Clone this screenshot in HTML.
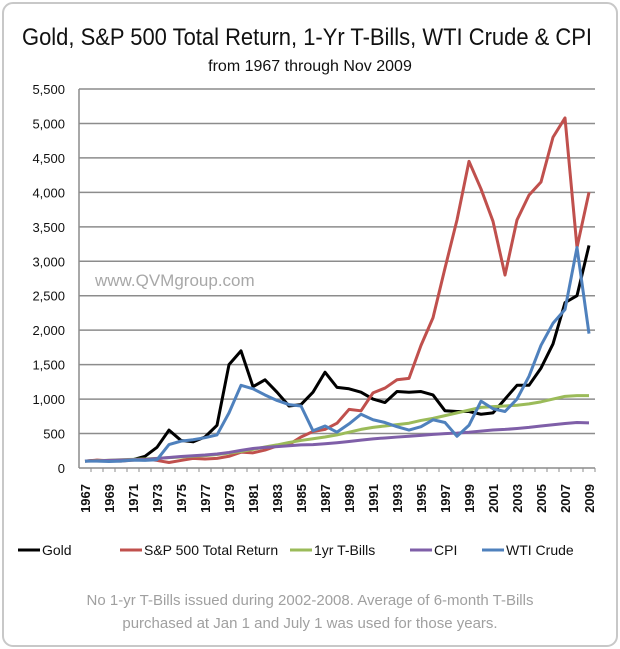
<!DOCTYPE html>
<html><head><meta charset="utf-8">
<style>
body{margin:0;background:#fff;font-family:"Liberation Sans",sans-serif;}
#wrap{position:relative;width:620px;height:649px;overflow:hidden;}
</style></head>
<body>
<div id="wrap">
<svg id="chart" width="620" height="649" xmlns="http://www.w3.org/2000/svg">
<rect x="3" y="3" width="614" height="643" rx="10" fill="#fff" stroke="#c8c8c8" stroke-width="2"/>
<text x="22" y="45" textLength="570" lengthAdjust="spacingAndGlyphs" font-size="24" fill="#111">Gold, S&amp;P 500 Total Return, 1-Yr T-Bills, WTI Crude &amp; CPI</text>
<text x="310" y="71" text-anchor="middle" font-size="16" fill="#111">from 1967 through Nov 2009</text>
<text x="95" y="286" font-size="17" fill="#a8a8a8">www.QVMgroup.com</text>
<g id="grid"></g><g id="lines"></g><g id="axes"></g>
<g id="legend"></g>
<text x="310" y="605" text-anchor="middle" font-size="15" fill="#a0a0a0">No 1-yr T-Bills issued during 2002-2008.  Average of 6-month T-Bills</text>
<text x="310" y="628" text-anchor="middle" font-size="15" fill="#a0a0a0">purchased at Jan 1 and July 1 was used for those years.</text>
</svg>
</div>
<script>
const years=[];for(let y=1967;y<=2009;y++)years.push(y);
const yTicks=[0,500,1000,1500,2000,2500,3000,3500,4000,4500,5000,5500];
const gold=[100,110,105,110,120,170,300,550,400,380,450,620,1500,1700,1180,1280,1100,900,920,1100,1390,1170,1150,1100,1000,950,1110,1100,1110,1060,830,820,820,780,800,1000,1200,1200,1450,1800,2400,2500,3230];
const sp500=[100,115,105,100,115,130,110,80,110,140,130,140,170,230,220,260,320,340,450,530,560,650,850,830,1090,1160,1280,1300,1780,2180,2900,3600,4450,4050,3580,2800,3600,3960,4150,4800,5080,3200,4000];
const tbills=[100,105,112,120,126,131,140,151,160,170,180,195,215,240,270,305,335,370,400,425,450,480,520,560,590,610,630,650,690,720,760,800,840,880,890,900,910,930,960,1000,1040,1050,1050];
const cpi=[100,104,110,116,120,124,138,153,167,177,188,203,226,256,283,300,310,323,335,340,352,367,385,405,423,436,449,461,474,488,499,507,519,536,551,560,573,589,609,628,646,660,655];
const wti=[100,100,95,100,115,110,120,340,390,410,440,480,800,1200,1150,1060,980,920,900,540,610,520,640,780,700,660,600,550,600,700,660,460,620,970,860,820,1000,1330,1780,2100,2300,3200,1950];
const seriesNames=["Gold","S&P 500 Total Return","1yr T-Bills","CPI","WTI Crude"];
const seriesColors=["#000000","#c0504d","#9bbb59","#7f5fa8","#4f81bd"];
const seriesData=[gold,sp500,tbills,cpi,wti];
const L=79,R=595,T=89,B=468,NS="http://www.w3.org/2000/svg";
const xs=i=>85+i*(589-85)/(years.length-1);
const ys=v=>B-(v/5500)*(B-T);
function mk(tag,at,parent){const e=document.createElementNS(NS,tag);for(const k in at)e.setAttribute(k,at[k]);parent.appendChild(e);return e;}
const grid=document.getElementById('grid'),axes=document.getElementById('axes'),lines=document.getElementById('lines'),leg=document.getElementById('legend');
yTicks.forEach(t=>{
  if(t>0){const g=mk('line',{x1:L,x2:R,y1:ys(t),y2:ys(t),stroke:'#8c8c8c','stroke-width':1.5},grid);
  
  }
  const tx=mk('text',{x:65,y:ys(t)+5,'text-anchor':'end','font-size':13,fill:'#111'},axes);
  tx.textContent=t.toLocaleString('en-US');
  
  
});
const ax=mk('line',{x1:L,x2:R,y1:B,y2:B,stroke:'#8c8c8c','stroke-width':1.5},axes);


const ay=mk('line',{x1:L,x2:L,y1:T,y2:B,stroke:'#8c8c8c','stroke-width':1.5},axes);


years.forEach((yr,i)=>{
  const tk=mk('line',{x1:xs(i)+6,x2:xs(i)+6,y1:B,y2:B+4,stroke:'#8c8c8c'},axes);
  
  
  if(i%2===0){const x=xs(i)+5,y=484;
    const t=mk('text',{x:x,y:y,transform:`rotate(-90 ${x} ${y})`,'text-anchor':'end','font-size':13,'font-weight':'bold',fill:'#111'},axes);
    t.textContent=yr;
    
    }
});
seriesData.forEach((d,s)=>{
  const p=mk('polyline',{points:d.map((v,i)=>xs(i)+','+ys(v)).join(' '),fill:'none',stroke:seriesColors[s],'stroke-width':3,'stroke-linejoin':'round'},lines);
  
  
});
const legX=[18,120,290,410,482];
seriesNames.forEach((n,s)=>{
  const g=mk('g',{},leg);
  
  
  mk('line',{x1:legX[s],x2:legX[s]+22,y1:550,y2:550,stroke:seriesColors[s],'stroke-width':3},g);
  const t=mk('text',{x:legX[s]+24,y:555,'font-size':14,fill:'#111'},g);
  t.textContent=n;
});
</script>
</body></html>
